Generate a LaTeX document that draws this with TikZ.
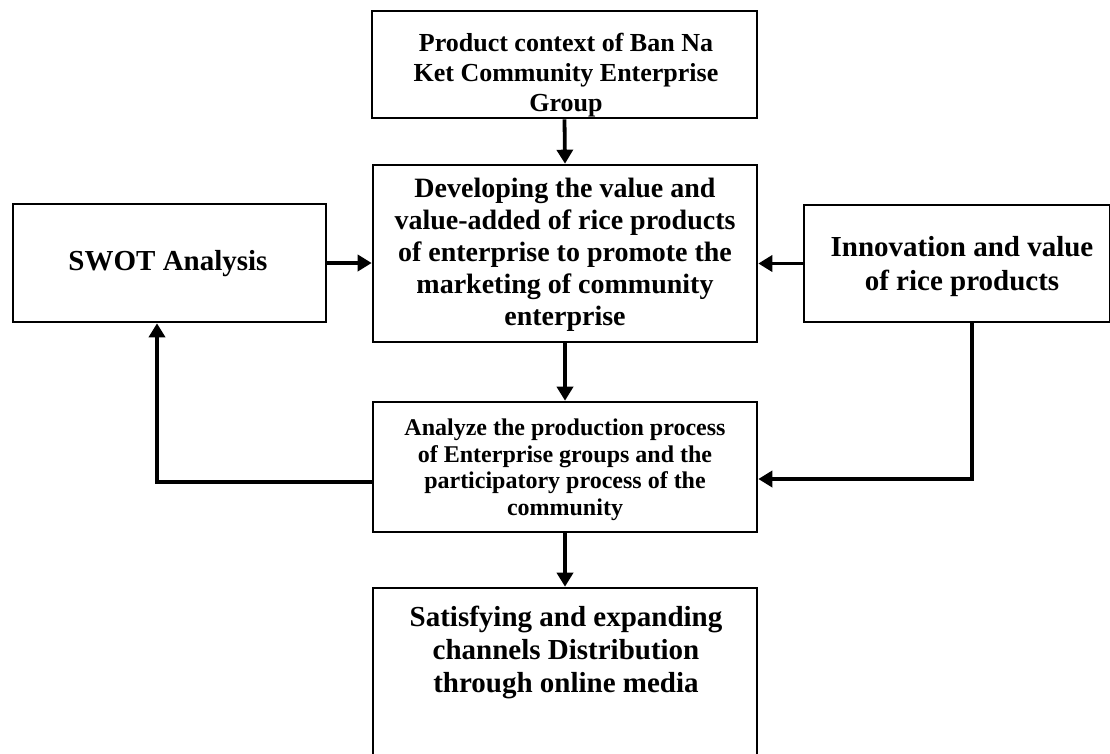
\documentclass[tikz,border=0pt]{standalone}
\usepackage{fontspec}
\setmainfont{Liberation Serif}
\usetikzlibrary{arrows.meta}
\begin{document}
\begin{tikzpicture}[x=1pt,y=-1pt,
  box/.style={draw, line width=2.6pt, inner sep=0pt, rectangle},
  txt/.style={align=center, inner sep=0pt},
  arr/.style={line width=3.8pt, -{Triangle[length=14pt,width=16pt]}}]
\useasboundingbox (0,0) rectangle (1110,753);
% boxes
\node[box, minimum width=385pt, minimum height=107pt] (top) at (564.5,64.5) {};
\node[box, minimum width=384pt, minimum height=177pt] (mid) at (565,253.5) {};
\node[box, minimum width=313pt, minimum height=118pt] (swot) at (169.5,263) {};
\node[box, minimum width=306pt, minimum height=117pt] (inn) at (957,263.5) {};
\node[box, minimum width=384pt, minimum height=130pt] (ana) at (565,467) {};
\node[box, minimum width=384pt, minimum height=184pt] (sat) at (565,680) {};
% texts
\node[txt, font=\bfseries\fontsize{26pt}{30pt}\selectfont] (toptxt) at (566,75) {Product context of Ban Na\\Ket Community Enterprise\\Group};
\node[txt, font=\bfseries\fontsize{28pt}{32pt}\selectfont] (midtxt) at (565,255) {Developing the value and\\value-added of rice products\\of enterprise to promote the\\marketing of community\\enterprise};
\node[txt, font=\bfseries\fontsize{29pt}{34pt}\selectfont] (swottxt) at (168,264) {SWOT Analysis};
\node[txt, font=\bfseries\fontsize{29pt}{34pt}\selectfont] (inntxt) at (962,267) {Innovation and value\\of rice products};
\node[txt, font=\bfseries\fontsize{24pt}{26.5pt}\selectfont] (anatxt) at (565,470) {Analyze the production process\\of Enterprise groups and the\\participatory process of the\\community};
\node[txt, font=\bfseries\fontsize{29pt}{33pt}\selectfont] (sattxt) at (566,652) {Satisfying and expanding\\channels Distribution\\through online media};
% connectors
\coordinate (lp) at (157,482);
\coordinate (rp) at (972,479);
\draw[arr] (top.south) -- (mid.north);
\draw[arr] (swot.east) -- (swot.east -| mid.west);
\draw[arr] (inn.west) -- (inn.west -| mid.east);
\draw[arr] (mid.south) -- (ana.north);
\draw[arr] (ana.west |- lp) -| (lp |- swot.south);
\draw[arr] (inn.south -| rp) |- (ana.east |- rp);
\draw[arr] (ana.south) -- (sat.north);
\end{tikzpicture}
\end{document}
